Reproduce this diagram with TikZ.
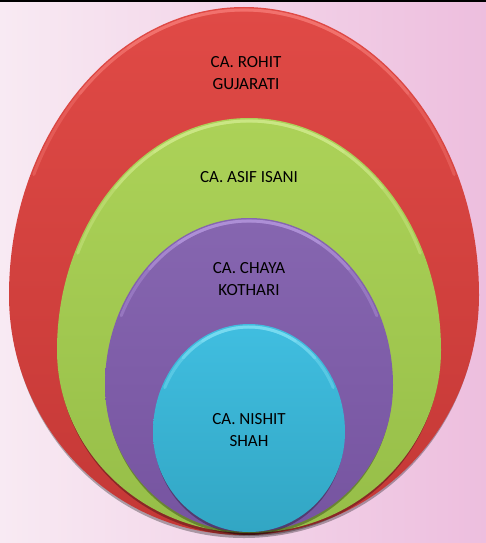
\documentclass[tikz,border=0pt]{standalone}
\usepackage{fontspec}
\setmainfont{Carlito}

\definecolor{bgleft}{RGB}{248,234,243}
\definecolor{bgright}{RGB}{237,190,222}
\definecolor{redtop}{RGB}{224,74,70}
\definecolor{redbot}{RGB}{196,56,54}
\definecolor{redhi}{RGB}{250,130,125}
\definecolor{greentop}{RGB}{172,210,88}
\definecolor{greenbot}{RGB}{150,190,72}
\definecolor{greenhi}{RGB}{215,240,150}
\definecolor{purpletop}{RGB}{134,102,176}
\definecolor{purplebot}{RGB}{118,84,160}
\definecolor{purplehi}{RGB}{190,160,230}
\definecolor{cyantop}{RGB}{64,190,224}
\definecolor{cyanbot}{RGB}{50,166,196}
\definecolor{cyanhi}{RGB}{140,230,248}

% egg outline: #1 centre x, #2 row of widest point, #3 half width,
% #4 upper height, #5 lower height (all in pixels, y measured downwards)
\newcommand{\eggpath}[5]{
  ({#1-#3},{-#2}) arc[start angle=180, end angle=0, x radius=#3pt, y radius=#4pt]
  arc[start angle=0, end angle=-180, x radius=#3pt, y radius=#5pt] -- cycle}

% one stacked layer with shadow, body and top bevel highlight
\newcommand{\layer}[8]{
  \fill[black, opacity=0.3] ({#1-#3+1},{-#2-3})
    arc[start angle=180, end angle=0, x radius=#3pt-1pt, y radius=#4pt]
    arc[start angle=0, end angle=-180, x radius=#3pt-1pt, y radius=#5pt] -- cycle;
  \shade[top color=#6, bottom color=#7] \eggpath{#1}{#2}{#3}{#4}{#5};
  \foreach \a/\b in {155/25, 135/45, 120/60} {
    \draw[#8, line width=3pt, opacity=0.35, line cap=round]
      ({#1+(#3-3)*cos(\a)},{-#2+(#4-3)*sin(\a)})
      arc[start angle=\a, end angle=\b, x radius=#3pt-3pt, y radius=#4pt-3pt];
  }
}

\begin{document}
\begin{tikzpicture}[x=1pt, y=1pt,
  lbl/.style={align=center, font=\fontsize{17}{22}\selectfont, text=black, inner sep=0pt}]
  \useasboundingbox (0,0) rectangle (486,-543);
  % background
  \shade[left color=bgleft, right color=bgright] (0,0) rectangle (486,-543);
  \fill[black] (0,0) rectangle (486,-2.2);

  % nested layers, outermost first
  \layer{244}{295}{235}{288}{240}{redtop}{redbot}{redhi}
  \layer{249}{350}{192}{232}{183}{greentop}{greenbot}{greenhi}
  \layer{249}{385}{144}{167}{147}{purpletop}{purplebot}{purplehi}
  \layer{249}{432}{96}{108}{100}{cyantop}{cyanbot}{cyanhi}

  % labels
  \node[lbl] (rohit) at (246,-73.5) {CA. ROHIT\\GUJARATI};
  \node[lbl] (asif) at (249,-177.5) {CA. ASIF ISANI};
  \node[lbl] (chaya) at (249,-279) {CA. CHAYA\\KOTHARI};
  \node[lbl] (nishit) at (249,-430) {CA. NISHIT\\SHAH};
\end{tikzpicture}
\end{document}
